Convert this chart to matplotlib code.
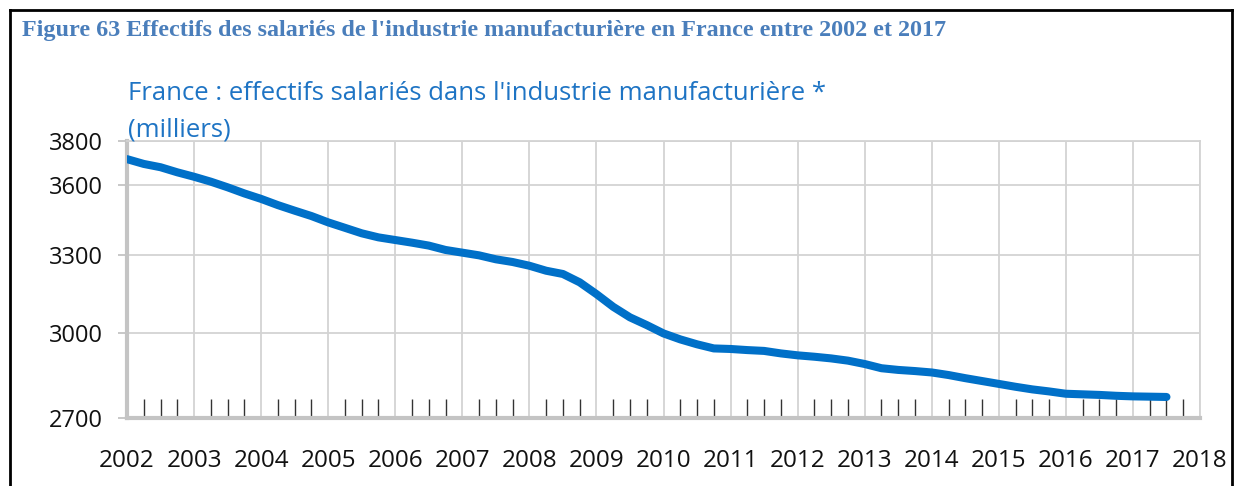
import numpy as np
import matplotlib
matplotlib.use("Agg")
import matplotlib.pyplot as plt
from matplotlib.ticker import FixedLocator, FixedFormatter, MultipleLocator, NullLocator
from matplotlib.lines import Line2D

# Quarterly manufacturing employment in France (thousands), 2002Q1 .. 2017Q3
start_year = 2002.0
employment = [
    3716, 3694, 3679, 3656,   # 2002
    3636, 3614, 3589, 3562,   # 2003
    3538, 3511, 3487, 3464,   # 2004
    3437, 3414, 3391, 3374,   # 2005
    3363, 3352, 3340, 3322,   # 2006
    3311, 3300, 3284, 3273,   # 2007
    3258, 3238, 3225, 3192,   # 2008
    3146, 3097, 3057, 3028,   # 2009
    2997, 2975, 2957, 2942,   # 2010
    2940, 2936, 2933, 2924,   # 2011
    2917, 2912, 2906, 2898,   # 2012
    2886, 2871, 2865, 2861,   # 2013
    2856, 2847, 2836, 2826,   # 2014
    2816, 2806, 2797, 2790,   # 2015
    2782, 2780, 2778, 2775,   # 2016
    2773, 2772, 2771,         # 2017
]
years = list(range(2002, 2019))
y_ticks = [2700, 3000, 3300, 3600, 3800]

fig_title = "Figure 63 Effectifs des salariés de l'industrie manufacturière en France entre 2002 et 2017"
chart_title = "France : effectifs salariés dans l'industrie manufacturière *"
chart_unit = "(milliers)"

BLUE = "#0070c8"
GRID = "#d3d3d3"
AXIS = "#c4c4c4"

plt.rcParams['font.family'] = ['Open Sans', 'DejaVu Sans']

fig = plt.figure(figsize=(12.36, 4.86), dpi=100)
ax = fig.add_axes([127 / 1236, 1 - 418 / 486, (1200 - 127) / 1236, (418 - 141) / 486])

t = start_year + 0.25 * np.arange(len(employment))
ax.plot(t, employment, color=BLUE, lw=5.8, solid_capstyle="round",
        solid_joinstyle="round", zorder=5)

ax.set_yscale("log")
ax.set_ylim(y_ticks[0], y_ticks[-1])
ax.set_xlim(years[0], years[-1])

ax.yaxis.set_major_locator(FixedLocator(y_ticks))
ax.yaxis.set_major_formatter(FixedFormatter([str(v) for v in y_ticks]))
ax.yaxis.set_minor_locator(NullLocator())

ax.xaxis.set_major_locator(FixedLocator(years))
ax.xaxis.set_major_formatter(FixedFormatter([str(y) for y in years]))
ax.xaxis.set_minor_locator(MultipleLocator(0.25))

ax.grid(True, which="major", color=GRID, lw=1.3, zorder=0)
ax.set_axisbelow(True)

ax.tick_params(axis="y", which="major", direction="out", length=6.5, width=1.3,
               color=AXIS, pad=11, labelsize=17, labelcolor="#111111")
ax.tick_params(axis="x", which="major", length=0, pad=22, labelsize=17.5,
               labelcolor="#111111")
ax.tick_params(axis="x", which="minor", direction="in", length=13.5, width=1.0,
               color="#333333")

for side in ("left", "bottom"):
    ax.spines[side].set_color(AXIS)
    ax.spines[side].set_linewidth(3)
for side in ("top", "right"):
    ax.spines[side].set_color(GRID)
    ax.spines[side].set_linewidth(1.3)

fig.text(22 / 1236, 1 - 36 / 486, fig_title, family="Liberation Serif",
         fontweight="bold", fontsize=17.4, color="#4a7ebb", va="baseline")
fig.text(128 / 1236, 1 - 100 / 486, chart_title, fontsize=18.5, color="#1e74c4",
         va="baseline")
fig.text(128 / 1236, 1 - 136 / 486, chart_unit, fontsize=18.5, color="#1e74c4",
         va="baseline")

# frame around the figure (left, top, right)
for xs, ys in (([10, 10], [486, 10]), ([10, 1232], [10, 10]), ([1232, 1232], [10, 486])):
    fig.add_artist(Line2D([x / 1236 for x in xs], [1 - y / 486 for y in ys],
                          color="black", lw=2, transform=fig.transFigure))

fig.savefig("out.png", dpi=100)
